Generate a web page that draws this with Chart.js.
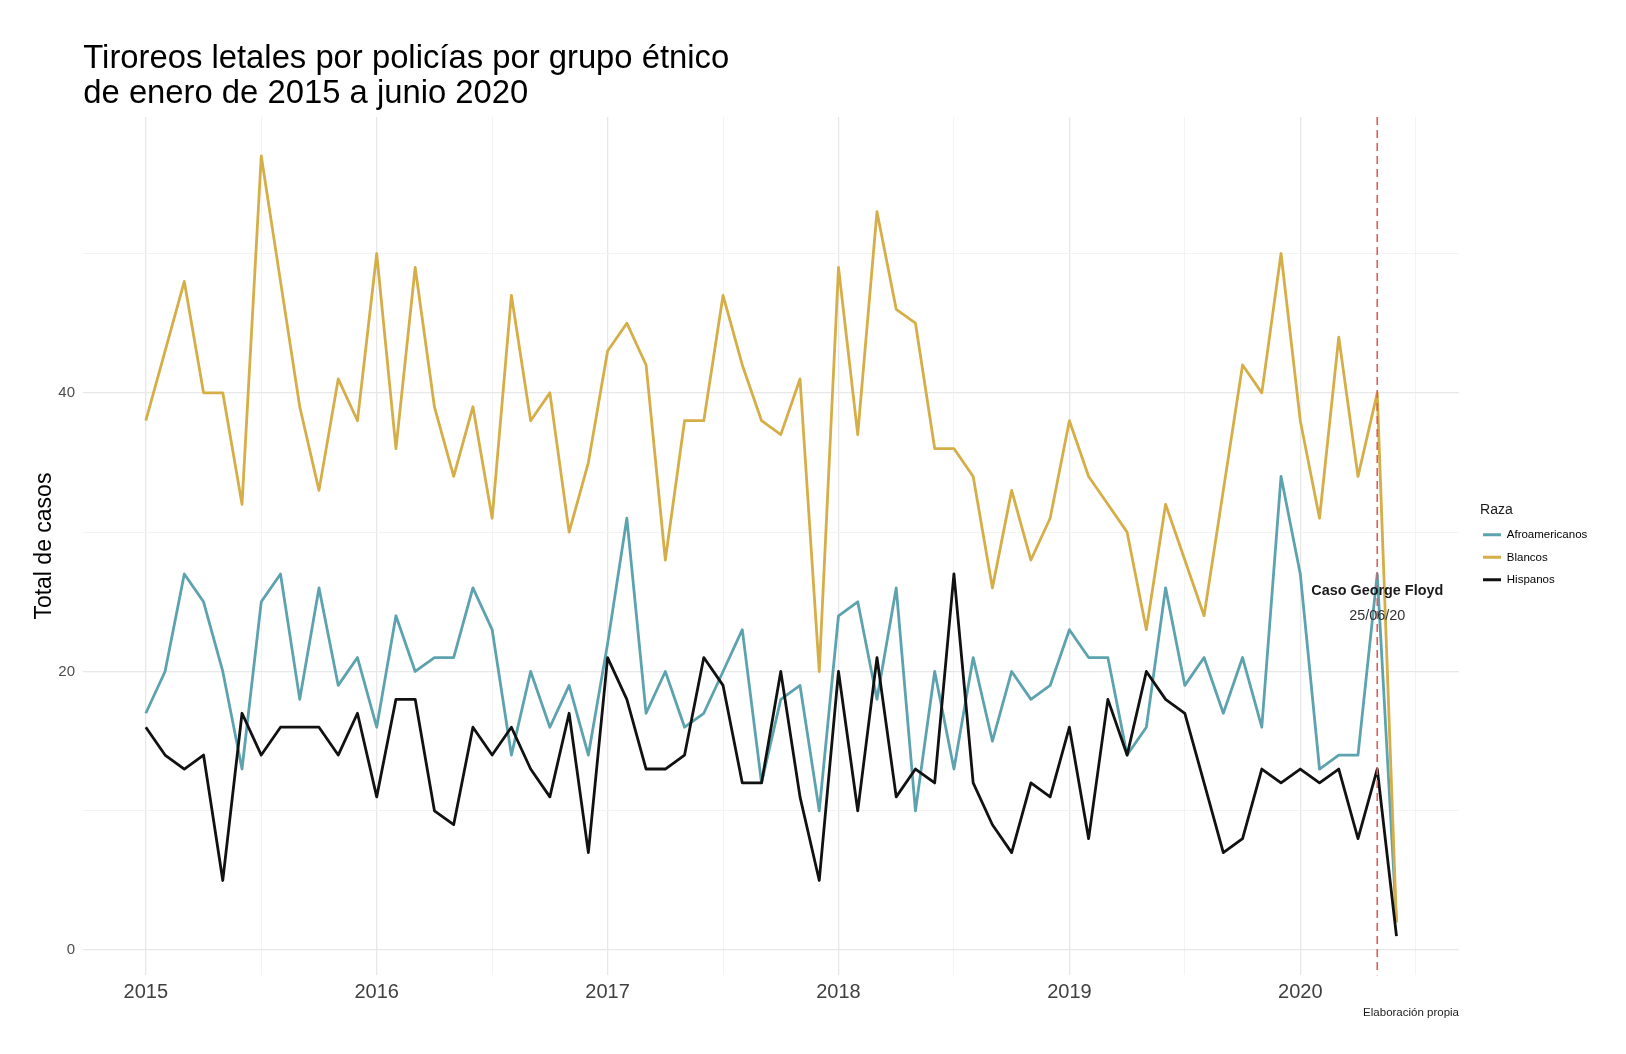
<!DOCTYPE html>
<html lang="es">
<head>
<meta charset="utf-8">
<title>Tiroreos letales por policías por grupo étnico</title>
<script src="https://cdn.jsdelivr.net/npm/chart.js@4.4.1/dist/chart.umd.min.js"></script>
<style>
html,body{margin:0;padding:0;background:#ffffff;}
#wrap{position:relative;width:1626px;height:1054px;}
</style>
</head>
<body>
<div id="wrap"><canvas id="grafico"></canvas></div>
<script>
// ---------- Datos ----------
const meses = [
  '2015-01','2015-02','2015-03','2015-04','2015-05','2015-06','2015-07','2015-08','2015-09','2015-10','2015-11','2015-12',
  '2016-01','2016-02','2016-03','2016-04','2016-05','2016-06','2016-07','2016-08','2016-09','2016-10','2016-11','2016-12',
  '2017-01','2017-02','2017-03','2017-04','2017-05','2017-06','2017-07','2017-08','2017-09','2017-10','2017-11','2017-12',
  '2018-01','2018-02','2018-03','2018-04','2018-05','2018-06','2018-07','2018-08','2018-09','2018-10','2018-11','2018-12',
  '2019-01','2019-02','2019-03','2019-04','2019-05','2019-06','2019-07','2019-08','2019-09','2019-10','2019-11','2019-12',
  '2020-01','2020-02','2020-03','2020-04','2020-05','2020-06'
];
const afroamericanos = [
  17, 20, 27, 25, 20, 13, 25, 27, 18, 26, 19, 21,
  16, 24, 20, 21, 21, 26, 23, 14, 20, 16, 19, 14,
  22, 31, 17, 20, 16, 17, 20, 23, 12, 18, 19, 10,
  24, 25, 18, 26, 10, 20, 13, 21, 15, 20, 18, 19,
  23, 21, 21, 14, 16, 26, 19, 21, 17, 21, 16, 34,
  27, 13, 14, 14, 27, 2
];
const blancos = [
  38, 43, 48, 40, 40, 32, 57, 48, 39, 33, 41, 38,
  50, 36, 49, 39, 34, 39, 31, 47, 38, 40, 30, 35,
  43, 45, 42, 28, 38, 38, 47, 42, 38, 37, 41, 20,
  49, 37, 53, 46, 45, 36, 36, 34, 26, 33, 28, 31,
  38, 34, 32, 30, 23, 32, 28, 24, 33, 42, 40, 50,
  38, 31, 44, 34, 40, 2
];
const hispanos = [
  16, 14, 13, 14, 5, 17, 14, 16, 16, 16, 14, 17,
  11, 18, 18, 10, 9, 16, 14, 16, 13, 11, 17, 7,
  21, 18, 13, 13, 14, 21, 19, 12, 12, 20, 11, 5,
  20, 10, 21, 11, 13, 12, 27, 12, 9, 7, 12, 11,
  16, 8, 18, 14, 20, 18, 17, 12, 7, 8, 13, 12,
  13, 12, 13, 8, 13, 1
];
const nombresSeries = ['Afroamericanos', 'Blancos', 'Hispanos'];
const ticksX = [2015, 2015.5, 2016, 2016.5, 2017, 2017.5, 2018, 2018.5, 2019, 2019.5, 2020, 2020.5];
const etiquetasX = ['2015', '2016', '2017', '2018', '2019', '2020'];
const ticksY = [0, 10, 20, 30, 40, 50];
const etiquetasY = ['0', '20', '40'];
const titulo = ['Tiroreos letales por policías por grupo étnico', 'de enero de 2015 a junio 2020'];
const tituloEjeY = 'Total de casos';
const tituloLeyenda = 'Raza';
const fuente = 'Elaboración propia';
const eventoMes = '2020-05';
const eventoTextos = ['Caso George Floyd', '25/06/20'];
const eventoY = [25.8, 24.0];

// ---------- Estilo ----------
const coloresSeries = ['#5DA3AF', '#D6AE48', '#111111'];
const FAMILIA = "'Liberation Sans', Arial, Helvetica, sans-serif";
Chart.defaults.font.family = FAMILIA;
Chart.defaults.color = '#1a1a1a';

const aAnio = s => { const [a, m] = s.split('-').map(Number); return a + (m - 1) / 12; };
const valores = [afroamericanos, blancos, hispanos];

const datasets = nombresSeries.map((nombre, k) => ({
  label: nombre,
  data: meses.map((m, i) => ({ x: aAnio(m), y: valores[k][i] })),
  borderColor: coloresSeries[k],
  backgroundColor: coloresSeries[k],
  borderWidth: 2.8,
  pointRadius: 0,
  pointHoverRadius: 0,
  tension: 0,
  fill: false,
  borderJoinStyle: 'round',
  order: 3 - k
}));

const xsInicio = aAnio(meses[0]), xsFin = aAnio(meses[meses.length - 1]);
const ysMin = Math.min(...afroamericanos, ...blancos, ...hispanos);
const ysMax = Math.max(...afroamericanos, ...blancos, ...hispanos);
const expX = (xsFin - xsInicio) * 0.05, expY = (ysMax - ysMin) * 0.05;

const esMayor = v => Math.abs(v - Math.round(v)) < 1e-6;

const desplazarLeyenda = {
  id: 'desplazarLeyenda',
  afterLayout(chart) {
    const lg = chart.legend;
    if (!lg) return;
    const dx = chart.chartArea.right + 13 - lg.left;
    lg.left += dx; lg.right += dx;
    if (!lg._tituloDesplazado) {
      const original = lg.drawTitle;
      lg.drawTitle = function () {
        this.ctx.save();
        this.ctx.translate(8, 0);
        original.call(this);
        this.ctx.restore();
      };
      lg._tituloDesplazado = true;
    }
  }
};

const anotaciones = {
  id: 'anotaciones',
  afterDatasetsDraw(chart) {
    const { ctx, chartArea, scales } = chart;
    const x = scales.x.getPixelForValue(aAnio(eventoMes));
    ctx.save();
    ctx.strokeStyle = '#E05C5C';
    ctx.lineWidth = 1.6;
    ctx.setLineDash([8, 5]);
    ctx.beginPath();
    ctx.moveTo(x, chartArea.top);
    ctx.lineTo(x, chartArea.bottom);
    ctx.stroke();
    ctx.setLineDash([]);
    ctx.textAlign = 'center';
    ctx.textBaseline = 'middle';
    ctx.fillStyle = '#1a1a1a';
    ctx.font = 'bold 14.4px ' + FAMILIA;
    ctx.fillText(eventoTextos[0], x, scales.y.getPixelForValue(eventoY[0]));
    ctx.fillStyle = '#333333';
    ctx.font = '14.4px ' + FAMILIA;
    ctx.fillText(eventoTextos[1], x, scales.y.getPixelForValue(eventoY[1]));
    ctx.restore();
  },
  afterDraw(chart) {
    const { ctx, chartArea } = chart;
    ctx.save();
    ctx.fillStyle = '#1a1a1a';
    ctx.font = '11.5px ' + FAMILIA;
    ctx.textAlign = 'right';
    ctx.textBaseline = 'middle';
    ctx.fillText(fuente, chartArea.right, chartArea.bottom + 38);
    ctx.restore();
  }
};

new Chart(document.getElementById('grafico'), {
  type: 'line',
  data: { datasets },
  options: {
    responsive: true,
    maintainAspectRatio: false,
    animation: false,
    events: [],
    layout: { padding: { left: 20, right: 41.7, top: 0, bottom: 44.8 } },
    plugins: {
      title: {
        display: true,
        text: titulo,
        align: 'start',
        fullSize: false,
        color: '#000000',
        font: { size: 32.8, weight: 'normal', lineHeight: 35 / 32.8 },
        padding: { top: 41.7, bottom: 5.3 }
      },
      legend: {
        display: true,
        position: 'right',
        align: 'center',
        fullSize: false,
        title: {
          display: true,
          text: tituloLeyenda,
          position: 'start',
          color: '#1a1a1a',
          font: { size: 14, weight: 'normal', lineHeight: 1 },
          padding: { top: 8, bottom: 0.5 }
        },
        labels: {
          boxWidth: 18,
          boxHeight: 3,
          padding: 11,
          color: '#1a1a1a',
          font: { size: 11.5 },
          generateLabels: chart => chart.data.datasets.map((d, i) => ({
            text: d.label, fillStyle: d.borderColor, strokeStyle: d.borderColor,
            lineWidth: 0, hidden: false, datasetIndex: i
          }))
        }
      },
      tooltip: { enabled: false }
    },
    scales: {
      x: {
        type: 'linear',
        min: xsInicio - expX,
        max: xsFin + expX,
        afterBuildTicks: ax => { ax.ticks = ticksX.map(v => ({ value: v })); },
        border: { display: false },
        grid: {
          drawTicks: false,
          tickLength: 0,
          color: c => esMayor(c.tick.value) ? '#E8E8E8' : '#F3F3F3',
          lineWidth: c => esMayor(c.tick.value) ? 1.3 : 1
        },
        ticks: {
          autoSkip: false, maxRotation: 0, minRotation: 0, padding: 5,
          color: '#404040', font: { size: 20 },
          callback: v => esMayor(v) ? (etiquetasX.find(e => Number(e) === Math.round(v)) || '') : ''
        }
      },
      y: {
        type: 'linear',
        min: ysMin - expY,
        max: ysMax + expY,
        afterBuildTicks: ax => { ax.ticks = ticksY.map(v => ({ value: v })); },
        border: { display: false },
        grid: {
          drawTicks: false,
          tickLength: 0,
          color: c => (c.tick.value % 20 === 0) ? '#E8E8E8' : '#F3F3F3',
          lineWidth: c => (c.tick.value % 20 === 0) ? 1.3 : 1
        },
        ticks: {
          autoSkip: false, padding: 8.3,
          color: '#4d4d4d', font: { size: 15 },
          callback: v => etiquetasY.find(e => Number(e) === v) || ''
        },
        title: {
          display: true,
          text: tituloEjeY,
          color: '#000000',
          font: { size: 23, weight: 'normal' },
          padding: { top: 11.2, bottom: -8.8 }
        }
      }
    }
  },
  plugins: [desplazarLeyenda, anotaciones]
});
</script>
</body>
</html>
